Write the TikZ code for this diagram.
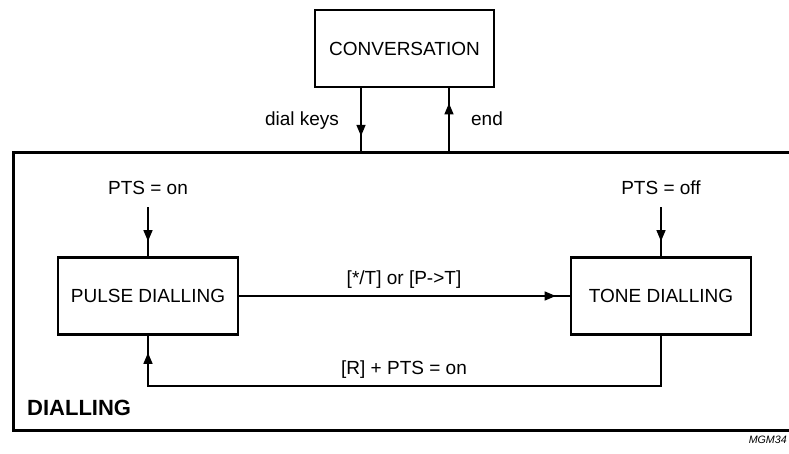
\documentclass[tikz,border=0pt]{standalone}
\usepackage{fontspec}
\setmainfont{Liberation Sans}
\usetikzlibrary{arrows.meta,decorations.markings}
\begin{document}
\begin{tikzpicture}[x=1pt,y=-1pt,
  txt/.style={font=\fontsize{19}{22}\selectfont, inner sep=0pt},
  statebox/.style={draw, line width=2.6pt, minimum width=180pt, minimum height=77pt, txt},
  conn/.style={line width=1.2pt},
  midarrow/.style={postaction={decorate}, decoration={markings, mark=at position #1 with {\arrow{Triangle[length=11pt,width=9pt]}}}},
]
\useasboundingbox (0,0) rectangle (789,454);

% outer DIALLING frame (open to the right)
\draw[line width=3pt] (790,153) -- (13,153) -- (13,430) -- (790,430);
\coordinate (dkf) at (361,153);
\coordinate (enf) at (449,153);

% states
\node[draw, line width=2.6pt, minimum width=179pt, minimum height=77pt, txt] (conv) at (404.5,48.5) {CONVERSATION};
\node[statebox] (pulse) at (148,296) {PULSE DIALLING};
\node[statebox] (tone) at (661,296) {TONE DIALLING};

% labels
\node[txt, anchor=base] (dk) at (302,126) {dial keys};
\node[txt, anchor=base] (en) at (487,126) {end};
\node[txt, anchor=base] (ptson) at (148,195) {PTS = on};
\node[txt, anchor=base] (ptsoff) at (661,195) {PTS = off};
\node[txt, anchor=base] (lpt) at (404,284) {[*/T] or [P->T]};
\node[txt, anchor=base] (ltp) at (404,374) {[R] + PTS = on};
\node[font=\bfseries\fontsize{22}{26}\selectfont, anchor=base west, inner sep=0pt] (dialling) at (27,415) {DIALLING};
\node[font=\itshape\fontsize{10.7}{13}\selectfont, anchor=base east, inner sep=0pt] (mgm) at (787,443) {MGM34};

% connectors
\draw[conn, midarrow=-17pt] (conv.south -| dkf) -- (dkf);
\draw[conn, midarrow=-15pt] (enf) -- (conv.south -| enf);
\draw[conn, midarrow=-15pt, shorten <=12pt] (ptson.south) -- (pulse.north);
\draw[conn, midarrow=-15pt, shorten <=12pt] (ptsoff.south) -- (tone.north);
\draw[conn, midarrow=-14pt] (pulse.east) -- (tone.west);
\coordinate (rl) at (0,386);
\draw[conn, midarrow=-17pt] (tone.south) |- (rl -| pulse.south) -- (pulse.south);
\end{tikzpicture}
\end{document}
